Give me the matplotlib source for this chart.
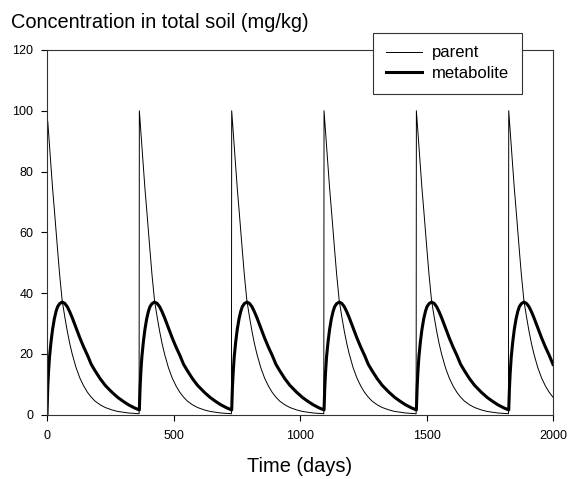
import matplotlib
matplotlib.use("Agg")
import matplotlib.pyplot as plt
from matplotlib.lines import Line2D

plt.rcParams['font.family'] = ['Liberation Sans', 'DejaVu Sans']

# Application days (one application per year)
application_days = [0, 365, 730, 1095, 1460, 1825]
x_end = 2000

# Values for one yearly cycle (days after application)
cycle_days = [0, 3, 6, 10, 16, 22, 29, 36, 42, 50, 60, 70, 80, 90, 100, 115,
              130, 145, 160, 175, 190, 210, 230, 257, 280, 300, 322, 345, 364]
parent_cycle = [100, 96.5, 93, 88, 81, 74.5, 67.5, 60, 54, 46, 37.5, 32.3,
                27.5, 23.3, 19.8, 15.4, 12.0, 9.4, 7.3, 5.7, 4.4, 3.2, 2.3,
                1.5, 1.0, 0.75, 0.5, 0.35, 0.25]
metabolite_cycle = [1.5, 9, 14, 19, 24, 28, 31.5, 34, 35.5, 36.5, 37, 36.6,
                    35.5, 33.8, 31.8, 28.5, 25.2, 22.2, 19.5, 16.5, 14.4, 11.8,
                    9.6, 7.3, 5.6, 4.4, 3.2, 2.2, 1.5]
first_parent_start = 97
first_metabolite_start = 0

tick_x = [0, 500, 1000, 1500, 2000]
tick_y = [0, 20, 40, 60, 80, 100, 120]

t_all, p_all, m_all = [], [], []
for i, start in enumerate(application_days):
    for j, d in enumerate(cycle_days):
        t = start + d
        if t > x_end:
            break
        p = parent_cycle[j]
        m = metabolite_cycle[j]
        if i == 0 and j == 0:
            p, m = first_parent_start, first_metabolite_start
        t_all.append(t)
        p_all.append(p)
        m_all.append(m)

fig = plt.figure(figsize=(5.69, 4.79), dpi=100)
ax = fig.add_axes([47/569, 1-414.5/479, (553-47)/569, (414.5-50)/479])

ax.plot(t_all, p_all, color='black', lw=0.7, solid_joinstyle='round')
ax.plot(t_all, m_all, color='black', lw=2.2, solid_joinstyle='round')

ax.set_xlim(0, 2000)
ax.set_ylim(0, 120)
ax.set_xticks(tick_x)
ax.set_xticklabels([str(v) for v in tick_x])
ax.set_yticks(tick_y)
ax.set_yticklabels([str(v) for v in tick_y])
ax.tick_params(direction='out', length=4.3, width=0.8, labelsize=9,
               top=False, right=False)
ax.tick_params(axis='x', pad=7)
ax.tick_params(axis='y', pad=5.5)
for s in ax.spines.values():
    s.set_linewidth(0.8)
    s.set_color('#333333')

ax.set_xlabel('Time (days)', fontsize=14.4, labelpad=11)
fig.text(11/569, 1-22/479, 'Concentration in total soil (mg/kg)',
         fontsize=14.4, ha='left', va='center')

handles = [Line2D([], [], color='black', lw=0.7),
           Line2D([], [], color='black', lw=2.2)]
leg = ax.legend(handles, ['parent', 'metabolite'],
                loc='upper left', bbox_to_anchor=(373/569, 1-33/479),
                bbox_transform=fig.transFigure, frameon=True, fancybox=False,
                fontsize=12, handlelength=2.2, handletextpad=0.6,
                borderpad=0.75, labelspacing=0.35, borderaxespad=0)
leg.get_frame().set_edgecolor('#333333')
leg.get_frame().set_linewidth(0.8)
leg.get_frame().set_alpha(1)
leg.set_zorder(10)

fig.savefig('out.png', dpi=100)
